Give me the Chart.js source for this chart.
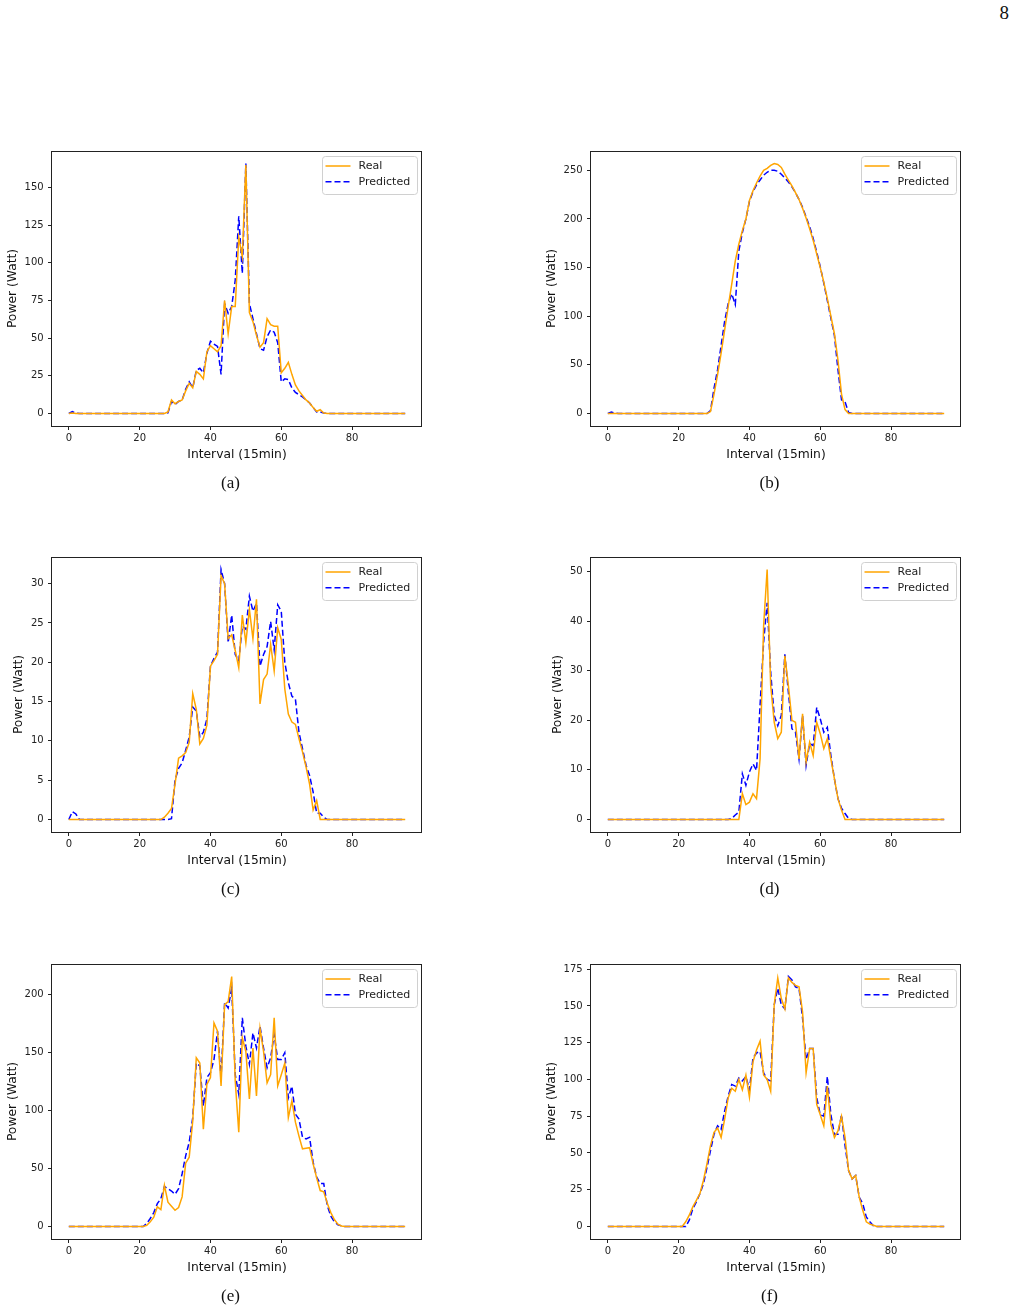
<!DOCTYPE html>
<html>
<head>
<meta charset="utf-8">
<script src="https://cdn.jsdelivr.net/npm/chart.js@4.4.1/dist/chart.umd.min.js"></script>
<style>
  body { margin: 0; background: #fff; width: 1014px; height: 1311px; position: relative; overflow: hidden; }
  .panel { position: absolute; }
  .caption { position: absolute; font-family: "Liberation Serif", serif; font-size: 17px; color: #111;
             transform: translate(-50%, -50%); white-space: nowrap; }
  #pageno { position: absolute; left: 990px; top: 2px; width: 19px; text-align: right;
            font-family: "Liberation Serif", serif; font-size: 19px; color: #111; }
</style>
</head>
<body>
<div id="pageno">8</div>
<script>
/* ── data: 96 fifteen-minute intervals per day ── */
const INTERVALS = Array.from({ length: 96 }, (_, i) => i);

const REAL_A = [
  0, 0.3, 0, 0, 0, 0, 0, 0, 0, 0, 0, 0,
  0, 0, 0, 0, 0, 0, 0, 0, 0, 0, 0, 0,
  0, 0, 0, 0, 1, 9, 6.5, 8, 9, 15, 20, 17,
  28, 26, 23, 41, 45, 43, 41, 45, 75, 53, 71, 71,
  117, 104, 165, 67, 61, 52, 44, 47, 63, 59, 58, 58,
  27, 30, 34, 26, 19, 15, 12, 9, 7, 4, 1.5, 2.5,
  0.3, 0, 0, 0, 0, 0, 0, 0, 0, 0, 0, 0,
  0, 0, 0, 0, 0, 0, 0, 0, 0, 0, 0, 0,
];
const PRED_A = [
  0, 1.2, 0.3, 0, 0, 0, 0, 0, 0, 0, 0, 0,
  0, 0, 0, 0, 0, 0, 0, 0, 0, 0, 0, 0,
  0, 0, 0, 0, 0.5, 8, 6, 8, 9, 16, 21, 17,
  28.6, 30, 27, 40, 48, 46, 44.5, 26, 73, 66.5, 71, 88.5,
  131, 93, 166, 73, 63, 53, 43, 42, 51, 55.5, 54, 47,
  21, 23, 22.5, 17, 14, 12.5, 11, 9, 7, 4, 1, 1,
  0.3, 0, 0, 0, 0, 0, 0, 0, 0, 0, 0, 0,
  0, 0, 0, 0, 0, 0, 0, 0, 0, 0, 0, 0,
];

const REAL_B = [
  0, 0, 0, 0, 0, 0, 0, 0, 0, 0, 0, 0,
  0, 0, 0, 0, 0, 0, 0, 0, 0, 0, 0, 0,
  0, 0, 0, 0, 0, 2, 20, 40, 62, 86, 110, 133,
  157, 174, 188, 200, 219, 229, 237, 244, 250, 252, 255, 257,
  256, 253, 246, 240, 234, 227, 220, 211, 201, 190, 178, 164,
  150, 135, 118, 100, 82, 55, 20, 4, 0, 0, 0, 0,
  0, 0, 0, 0, 0, 0, 0, 0, 0, 0, 0, 0,
  0, 0, 0, 0, 0, 0, 0, 0, 0, 0, 0, 0,
];
const PRED_B = [
  0, 1.4, 0.5, 0, 0, 0, 0, 0, 0, 0, 0, 0,
  0, 0, 0, 0, 0, 0, 0, 0, 0, 0, 0, 0,
  0, 0, 0, 0, 0, 3, 26, 45, 70, 95, 113, 123,
  112, 167, 186, 200, 218, 228, 235, 240, 245, 248, 250, 250,
  249, 246, 242, 238, 233, 227, 220, 212, 202, 192, 180, 166,
  151, 134, 116, 98, 80, 45, 14, 12, 1, 0, 0, 0,
  0, 0, 0, 0, 0, 0, 0, 0, 0, 0, 0, 0,
  0, 0, 0, 0, 0, 0, 0, 0, 0, 0, 0, 0,
];

const REAL_C = [
  0, 0, 0, 0, 0, 0, 0, 0, 0, 0, 0, 0,
  0, 0, 0, 0, 0, 0, 0, 0, 0, 0, 0, 0,
  0, 0, 0, 0.3, 0.8, 1.4, 4.5, 7.8, 8.1, 8.5, 9.8, 16,
  14, 9.6, 10.3, 12, 19.5, 20.2, 21, 31, 30, 23, 23.5, 21.5,
  19.3, 26, 22.5, 26.7, 23, 28, 14.7, 17.8, 18.5, 22.3, 18.9, 24.4,
  22.9, 16.6, 13.4, 12.4, 12.1, 10.3, 8.6, 6.7, 4.5, 1.2, 2.4, 0,
  0, 0, 0, 0, 0, 0, 0, 0, 0, 0, 0, 0,
  0, 0, 0, 0, 0, 0, 0, 0, 0, 0, 0, 0,
];
const PRED_C = [
  0, 1.0, 0.7, 0, 0, 0, 0, 0, 0, 0, 0, 0,
  0, 0, 0, 0, 0, 0, 0, 0, 0, 0, 0, 0,
  0, 0, 0, 0, 0, 0.1, 5, 6.5, 7.2, 8.8, 10.5, 14.3,
  13.8, 10.5, 11.1, 12.8, 19.5, 20.5, 21.3, 31.8, 30, 22.5, 26, 21,
  20.2, 24.6, 24.2, 28.4, 26.5, 27.5, 19.5, 21, 22, 25.2, 21.6, 27.3,
  26.5, 20, 17.4, 15.7, 15.3, 11.1, 9, 6.9, 5.6, 3.5, 0.8, 0.8,
  0.3, 0, 0, 0, 0, 0, 0, 0, 0, 0, 0, 0,
  0, 0, 0, 0, 0, 0, 0, 0, 0, 0, 0, 0,
];

const REAL_D = [
  0, 0, 0, 0, 0, 0, 0, 0, 0, 0, 0, 0,
  0, 0, 0, 0, 0, 0, 0, 0, 0, 0, 0, 0,
  0, 0, 0, 0, 0, 0, 0, 0, 0, 0, 0, 0,
  0, 0, 5.2, 3, 3.5, 5.2, 4.2, 12.2, 39, 50.4, 27, 19.6,
  16.3, 17.6, 33, 27, 20, 19.6, 12.2, 21.3, 11.6, 15.6, 12.9, 19.6,
  17.3, 14.3, 16.3, 12.2, 8.2, 4.2, 1.9, 0, 0, 0, 0, 0,
  0, 0, 0, 0, 0, 0, 0, 0, 0, 0, 0, 0,
  0, 0, 0, 0, 0, 0, 0, 0, 0, 0, 0, 0,
];
const PRED_D = [
  0, 0, 0, 0, 0, 0, 0, 0, 0, 0, 0, 0,
  0, 0, 0, 0, 0, 0, 0, 0, 0, 0, 0, 0,
  0, 0, 0, 0, 0, 0, 0, 0, 0, 0, 0, 0.2,
  0.9, 1.5, 9.2, 6.9, 9.6, 11.2, 9.9, 23, 35.7, 43.7, 29.6, 21,
  18.9, 21, 33.3, 25.6, 18.3, 17.6, 12.2, 21, 10.9, 15.3, 14.9, 22.6,
  20.3, 17.6, 18.6, 12.9, 8.2, 4.2, 2.3, 1.2, 0.2, 0, 0, 0,
  0, 0, 0, 0, 0, 0, 0, 0, 0, 0, 0, 0,
  0, 0, 0, 0, 0, 0, 0, 0, 0, 0, 0, 0,
];

const REAL_E = [
  0, 0, 0, 0, 0, 0, 0, 0, 0, 0, 0, 0,
  0, 0, 0, 0, 0, 0, 0, 0, 0, 0, 1, 4,
  8, 17, 14.6, 35.5, 21, 17.5, 14, 16.3, 25.5, 54.6, 59.8, 91,
  145.6, 141, 84, 122.7, 128.5, 175.7, 168.5, 121.3, 191.4, 194, 215.7, 125.6,
  81.3, 162.8, 151, 110, 154, 112.7, 171, 151, 124, 131, 180, 121.3,
  131, 141, 94, 108.4, 90, 78, 67, 67.5, 68, 54, 42, 31,
  30, 20, 12, 6, 2, 0.5, 0, 0, 0, 0, 0, 0,
  0, 0, 0, 0, 0, 0, 0, 0, 0, 0, 0, 0,
];
const PRED_E = [
  0, 0, 0, 0, 0, 0, 0, 0, 0, 0, 0, 0,
  0, 0, 0, 0, 0, 0, 0, 0, 0, 0, 2.6, 6.9,
  12, 19.7, 24, 34.6, 32.6, 30.6, 27.8, 32.6, 45.5, 61, 72.7, 94,
  141, 138.5, 104, 128.5, 132.8, 144, 168.5, 128.5, 193, 188.5, 205.7, 131,
  114, 180, 155.6, 140, 167, 154, 172.8, 154, 137, 145.6, 165.7, 144,
  144, 150, 111, 121, 97, 92.7, 77, 75.5, 77, 55.5, 42.6, 37,
  37, 18, 9, 4, 1.5, 0.5, 0, 0, 0, 0, 0, 0,
  0, 0, 0, 0, 0, 0, 0, 0, 0, 0, 0, 0,
];

const REAL_F = [
  0, 0, 0, 0, 0, 0, 0, 0, 0, 0, 0, 0,
  0, 0, 0, 0, 0, 0, 0, 0, 0, 0, 3.2, 7.7,
  13.3, 17.8, 22.3, 31.3, 42.6, 55, 64, 67, 60.6, 73, 87.6, 94,
  92, 100, 93, 103, 88, 112, 120, 126, 103, 100, 92, 151,
  169, 155, 148, 169, 166, 164, 163, 146, 104.5, 121, 121, 83,
  76, 68.5, 95.5, 69.6, 60.6, 65, 75, 60.6, 38, 32.4, 34.7, 20,
  11, 3.2, 1.6, 0.8, 0, 0, 0, 0, 0, 0, 0, 0,
  0, 0, 0, 0, 0, 0, 0, 0, 0, 0, 0, 0,
];
const PRED_F = [
  0, 0, 0, 0, 0, 0, 0, 0, 0, 0, 0, 0,
  0, 0, 0, 0, 0, 0, 0, 0, 0, 0, 0, 4.3,
  12, 16.7, 22.3, 29, 40, 51.6, 62.8, 68.5, 66, 78.6, 88.7, 96.6,
  95.5, 101, 99, 102, 93, 114.6, 118, 119, 104.5, 100, 99, 150.7,
  162, 150.7, 148, 170, 167.6, 163, 162, 141.7, 113.5, 121, 121, 87.6,
  76, 75, 102, 76, 62.8, 62.8, 76, 55, 38, 32.4, 34.7, 20,
  15.5, 6.5, 3.2, 0.5, 0, 0, 0, 0, 0, 0, 0, 0,
  0, 0, 0, 0, 0, 0, 0, 0, 0, 0, 0, 0,
];

const SERIES_LABELS = ["Real", "Predicted"];
const CAPTIONS = ["(a)", "(b)", "(c)", "(d)", "(e)", "(f)"];
const Y_STEPS = [25, 50, 5, 10, 50, 25];
const X_TICKS = [0, 20, 40, 60, 80];
const X_TITLE = "Interval (15min)";
const Y_TITLE = "Power (Watt)";

/* ── styling ── */
const ORANGE = "#ffa500";
const BLUE = "#0000ff";
const INK = "#222222";
const FONT = "'DejaVu Sans', sans-serif";
Chart.defaults.font.family = FONT;

// axes boxes on the page: two columns, three rows
const COL_L = [52, 591];
const COL_R = [422, 961];
const ROW_T = [151, 557, 964];
const BOX_H = 275;

// frame around plot area + matplotlib-like legend in upper right
const frameLegend = {
  id: "frameLegend",
  afterDraw(chart) {
    const { ctx, chartArea: a } = chart;
    ctx.save();
    ctx.strokeStyle = INK;
    ctx.lineWidth = 1;
    const l = Math.round(a.left) - 0.5, t = Math.round(a.top) + 0.5;
    const r = Math.round(a.right) - 0.5, b = Math.round(a.bottom) + 0.5;
    ctx.strokeRect(l, t, r - l, b - t);

    const lw = 95, lh = 38;
    const lx = Math.round(a.right - 5.5 - lw) + 0.5, ly = Math.round(a.top + 4.5) + 0.5;
    ctx.beginPath();
    ctx.roundRect(lx, ly, lw, lh, 3);
    ctx.fillStyle = "rgba(255,255,255,0.8)";
    ctx.fill();
    ctx.strokeStyle = "#d0d0d0";
    ctx.stroke();

    ctx.font = "11px " + FONT;
    ctx.textBaseline = "middle";
    chart.data.datasets.forEach((ds, k) => {
      const y = ly + 9.5 + k * 15.7;
      ctx.setLineDash(ds.borderDash || []);
      ctx.strokeStyle = ds.borderColor;
      ctx.lineWidth = ds.borderWidth;
      ctx.beginPath();
      ctx.moveTo(lx + 3, y);
      ctx.lineTo(lx + 28, y);
      ctx.stroke();
      ctx.setLineDash([]);
      ctx.fillStyle = INK;
      ctx.fillText(ds.label, lx + 36, y + 0.5);
    });
    ctx.restore();
  },
};

function makePanel(k, real, pred) {
  const col = k % 2, row = Math.floor(k / 2);
  const L = COL_L[col], R = COL_R[col], T = ROW_T[row];
  const W = R - L + 70, H = BOX_H + 14 + 50;

  const div = document.createElement("div");
  div.className = "panel";
  div.style.left = (L - 60) + "px";
  div.style.top = (T - 14) + "px";
  const canvas = document.createElement("canvas");
  canvas.width = W; canvas.height = H;
  canvas.style.width = W + "px"; canvas.style.height = H + "px";
  div.appendChild(canvas);
  document.body.appendChild(div);

  const cap = document.createElement("div");
  cap.className = "caption";
  cap.textContent = CAPTIONS[k];
  cap.style.left = (L + 178.5) + "px";
  cap.style.top = (T + BOX_H + 56.5) + "px";
  document.body.appendChild(cap);

  // matplotlib-style 5% margins
  const yMax = Math.max(...real, ...pred);
  const xMin = INTERVALS[0], xMax = INTERVALS[INTERVALS.length - 1];
  const xPad = (xMax - xMin) * 0.05;
  const step = Y_STEPS[k];
  const yTicks = [];
  for (let v = 0; v <= yMax * 1.05; v += step) yTicks.push(v);
  const topTick = yTicks[yTicks.length - 1];
  const yTitlePad = String(topTick).length >= 3 ? 5.5 : 11.2;

  new Chart(canvas, {
    type: "line",
    data: {
      labels: INTERVALS,
      datasets: [
        { label: SERIES_LABELS[0], data: real, borderColor: ORANGE, borderWidth: 1.5,
          pointRadius: 0, tension: 0, fill: false },
        { label: SERIES_LABELS[1], data: pred, borderColor: BLUE, borderWidth: 1.5,
          borderDash: [6, 3], pointRadius: 0, tension: 0, fill: false },
      ],
    },
    options: {
      responsive: false,
      animation: false,
      devicePixelRatio: 1,
      layout: { padding: { left: 8, top: 14, right: 10, bottom: 10 } },
      plugins: { legend: { display: false }, tooltip: { enabled: false } },
      scales: {
        x: {
          type: "linear",
          min: xMin - xPad,
          max: xMax + xPad,
          grid: { drawOnChartArea: false, drawTicks: true, tickLength: 4, color: INK },
          border: { display: false },
          ticks: { padding: 2, maxRotation: 0, color: INK, font: { size: 10 } },
          afterBuildTicks: (s) => { s.ticks = X_TICKS.map((v) => ({ value: v })); },
          title: { display: true, text: X_TITLE, color: "#111", font: { size: 12.3 },
                   padding: { top: 0, bottom: 3.8 } },
          afterFit: (s) => { s.height = 40; },
        },
        y: {
          min: -yMax * 0.05,
          max: yMax * 1.05,
          grid: { drawOnChartArea: false, drawTicks: true, tickLength: 4, color: INK },
          border: { display: false },
          ticks: { padding: 4.4, color: INK, font: { size: 10 } },
          afterBuildTicks: (s) => { s.ticks = yTicks.map((v) => ({ value: v })); },
          title: { display: true, text: Y_TITLE, color: "#111", font: { size: 12.3 },
                   padding: { top: yTitlePad, bottom: 0 } },
          afterFit: (s) => { s.width = 52; },
        },
      },
    },
    plugins: [frameLegend],
  });
}

makePanel(0, REAL_A, PRED_A);
makePanel(1, REAL_B, PRED_B);
makePanel(2, REAL_C, PRED_C);
makePanel(3, REAL_D, PRED_D);
makePanel(4, REAL_E, PRED_E);
makePanel(5, REAL_F, PRED_F);
</script>
</body>
</html>
